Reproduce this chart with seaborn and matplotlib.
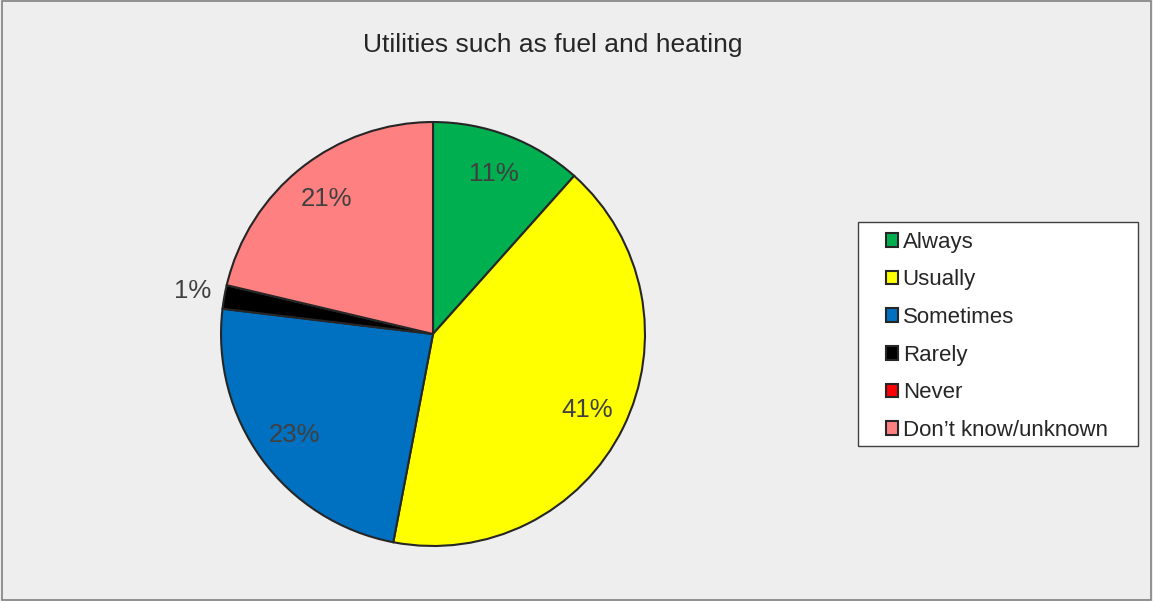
import numpy as np
import matplotlib
matplotlib.use("Agg")
import matplotlib.pyplot as plt
import seaborn as sns
from matplotlib.patches import Rectangle

# data
categories = ["Always", "Usually", "Sometimes", "Rarely", "Never", "Don\u2019t know/unknown"]
shares = [11.6, 41.4, 23.9, 1.8, 0.0, 21.3]
pct_labels = ["11%", "41%", "23%", "1%", "", "21%"]
colours = ["#00B050", "#FFFF00", "#0070C0", "#000000", "#FF0000", "#FF8080"]
title = "Utilities such as fuel and heating"

sns.set_theme(style="white")
plt.rcParams['font.family'] = ['Liberation Sans', 'DejaVu Sans']

fig = plt.figure(figsize=(11.53, 6.01), dpi=100)
fig.patch.set_facecolor("#EEEEEE")

ax = fig.add_axes([0.1917, 0.0915, 0.3677, 0.7055])
ax.set_facecolor("none")
palette = sns.color_palette(colours)

wedges, texts, autotexts = ax.pie(
    shares, colors=palette, startangle=90, counterclock=False,
    autopct="%1.0f%%", pctdistance=0.81, radius=1,
    wedgeprops=dict(edgecolor="#262626", linewidth=1.5),
    textprops=dict(fontsize=18.5, color="#404040"))

for w, t, lab, val in zip(wedges, autotexts, pct_labels, shares):
    t.set_text(lab)
    if 0 < val < 5:
        # small slice label sits outside the pie
        ang = np.deg2rad((w.theta1 + w.theta2) / 2)
        t.set_position((1.15 * np.cos(ang), 1.15 * np.sin(ang)))

ax.set_xlim(-1, 1)
ax.set_ylim(-1, 1)
ax.set_aspect("equal")
ax.axis("off")

fig.text(0.479, 0.925, title, ha="center", va="center", fontsize=19, color="#262626")

# legend box drawn separately so the padding matches the original
fig.patches.append(Rectangle((0.7442, 0.2579), 0.2428, 0.3727, transform=fig.transFigure,
                             facecolor="white", edgecolor="#404040", linewidth=1.0))
leg = fig.legend(wedges, categories, loc="upper left", bbox_to_anchor=(0.7684, 0.6145),
                 bbox_transform=fig.transFigure, borderaxespad=0, borderpad=0,
                 frameon=False, fontsize=16, handlelength=0.55, handleheight=0.55,
                 handletextpad=0.2, labelspacing=0.75)
for txt in leg.get_texts():
    txt.set_color("#262626")

fig.patches.append(Rectangle((0.002, 0.002), 0.996, 0.996, transform=fig.transFigure,
                             fill=False, edgecolor="#808080", linewidth=1.2))

fig.savefig("out.png", dpi=100, facecolor=fig.get_facecolor())
